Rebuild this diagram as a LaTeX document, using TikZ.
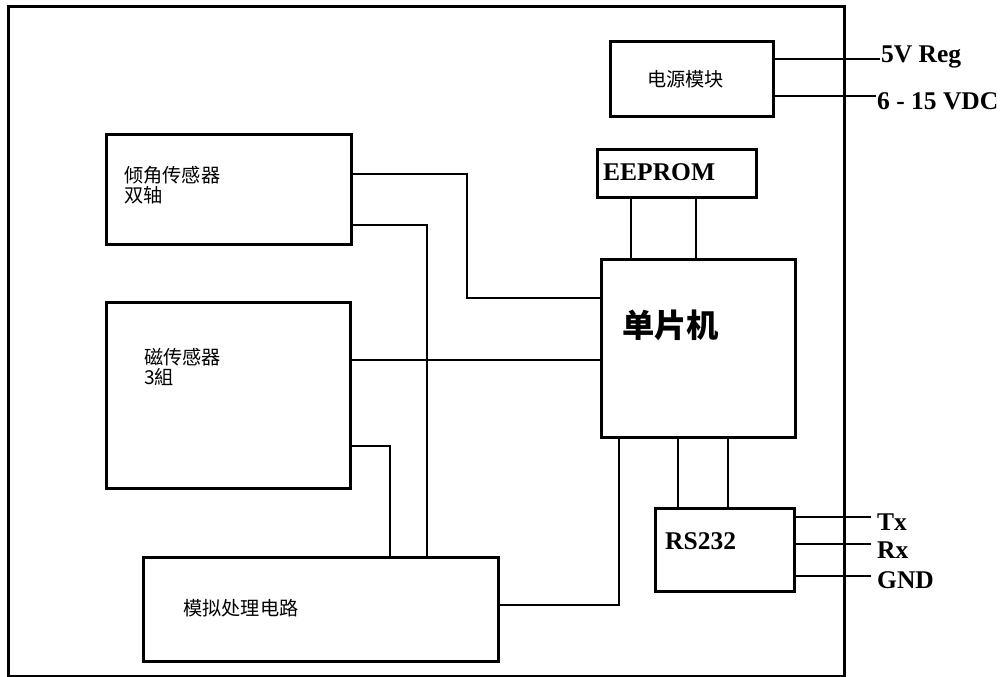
\documentclass[tikz,border=0pt]{standalone}
\usepackage{fontspec}
\setmainfont{Liberation Serif}
\newfontfamily\cjk{Noto Sans CJK SC}
\tikzset{
  blk/.style={draw, line width=3pt, inner sep=0pt},
  wire/.style={draw, line width=2.7pt, line join=miter},
  lat/.style={font=\fontsize{25.5}{25.5}\selectfont\bfseries, inner sep=0pt, anchor=base west},
  zh/.style={font=\cjk\fontsize{19.2}{20}\selectfont, inner sep=0pt, anchor=west, align=left},
}
\begin{document}
\begin{tikzpicture}[x=1pt,y=-1pt]
\useasboundingbox (0,0) rectangle (1004,677);
% frame
\node[blk, minimum width=836pt, minimum height=669pt] (frame) at (426,341.5) {};
% boxes
\node[blk, minimum width=163pt, minimum height=74pt] (power) at (691.5,79) {};
\node[blk, minimum width=159pt, minimum height=48pt] (eeprom) at (676.5,173) {};
\node[blk, minimum width=194pt, minimum height=178pt] (mcu) at (698,348) {};
\node[blk, minimum width=245pt, minimum height=110pt] (tilt) at (228.5,189) {};
\node[blk, minimum width=244pt, minimum height=186pt] (mag) at (228,395) {};
\node[blk, minimum width=355pt, minimum height=104pt] (analog) at (320.5,609) {};
\node[blk, minimum width=139pt, minimum height=83pt] (rs) at (724.5,549.5) {};
% texts
\node[zh] (tpower) at (647,79.5) {电源模块};
\node[lat] (teeprom) at (603,180) {EEPROM};
\node[font=\cjk\fontsize{32.3}{32}\selectfont\bfseries, inner sep=0pt, anchor=west] (tmcu) at (622,325) {单片机};
\node[zh] (ttilt) at (124,185) {倾角传感器\\双轴};
\node[zh] (tmag) at (144,367) {磁传感器\\3組};
\node[zh] (tanalog) at (183,608) {模拟处理电路};
\node[lat] (trs) at (665,549) {RS232};
% external labels
\node[lat] (l5v) at (881,63) {5V Reg};
\node[lat] (l6v) at (877,110) {6 - 15 VDC};
\node[lat] (ltx) at (877,530) {Tx};
\node[lat] (lrx) at (877,558) {Rx};
\node[lat] (lgnd) at (877,588) {GND};
\coordinate (e5v) at (880,59);
\coordinate (e6v) at (876,96);
\coordinate (etx) at (871,517);
\coordinate (erx) at (871,544);
\coordinate (egnd) at (871,576);
% connectors
\draw[wire] (power.east |- 0,59) -- (e5v);
\draw[wire] (power.east |- 0,96) -- (e6v);
\draw[wire] (eeprom.south -| 631,0) -- (mcu.north -| 631,0);
\draw[wire] (eeprom.south -| 696,0) -- (mcu.north -| 696,0);
\draw[wire] (tilt.east |- 0,174) -- (467,174) -- (467,298) -- (mcu.west |- 0,298);
\draw[wire] (tilt.east |- 0,225) -- (427,225) -- (analog.north -| 427,0);
\draw[wire] (mag.east |- 0,360) -- (mcu.west |- 0,360);
\draw[wire] (mag.east |- 0,446) -- (390,446) -- (analog.north -| 390,0);
\draw[wire] (analog.east |- 0,605) -- (619,605) -- (mcu.south -| 619,0);
\draw[wire] (mcu.south -| 678,0) -- (rs.north -| 678,0);
\draw[wire] (mcu.south -| 728,0) -- (rs.north -| 728,0);
\draw[wire] (rs.east |- 0,517) -- (etx);
\draw[wire] (rs.east |- 0,544) -- (erx);
\draw[wire] (rs.east |- 0,576) -- (egnd);
\end{tikzpicture}
\end{document}
